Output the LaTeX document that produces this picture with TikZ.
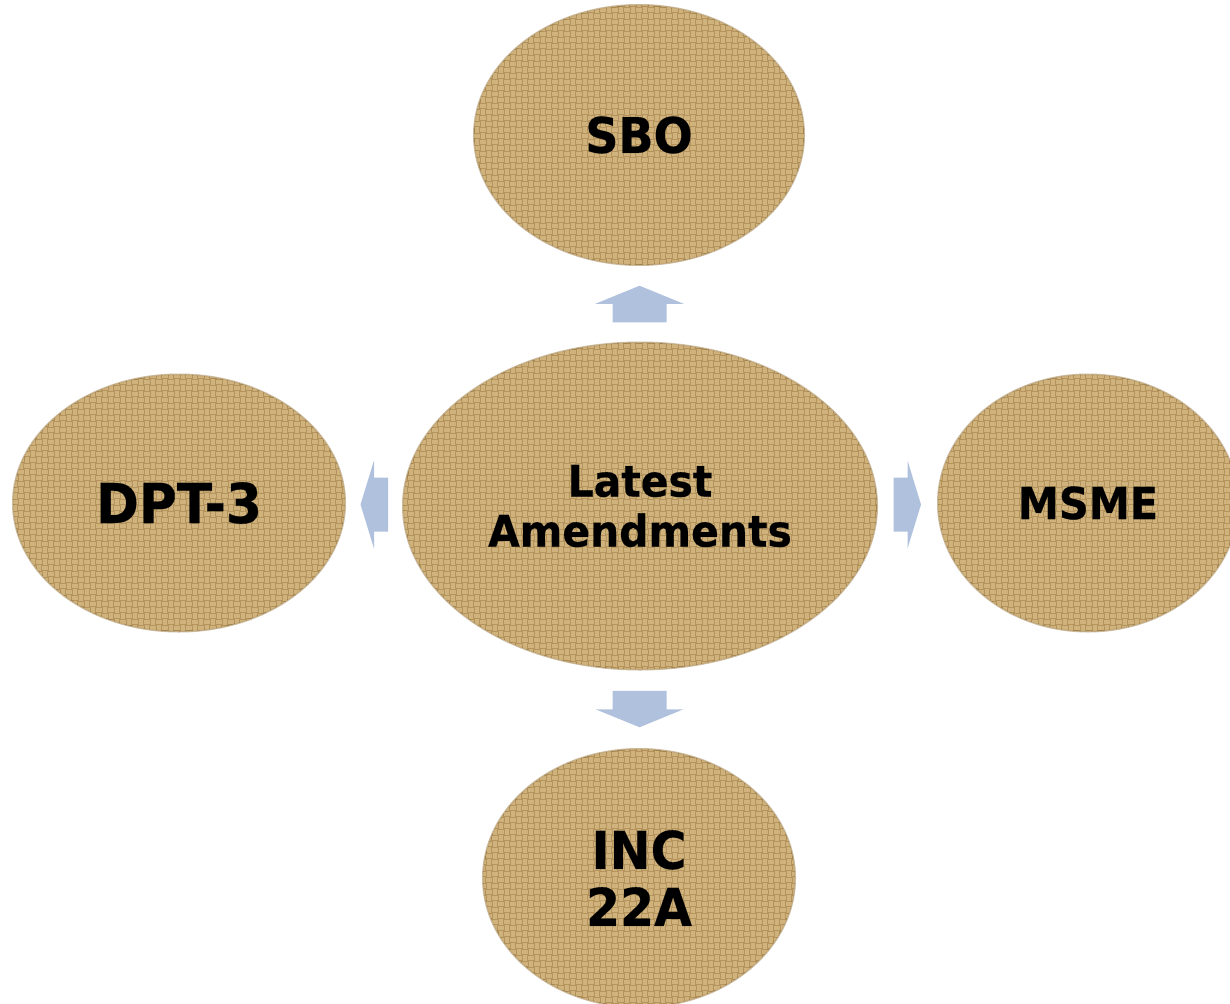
\documentclass[tikz,border=0pt]{standalone}
\usepackage{fontspec}
\newfontfamily\lbl{DejaVu Sans}[FakeStretch=0.94, BoldFeatures={FakeBold=1.2}]
\usetikzlibrary{shapes.geometric,patterns,calc}
\definecolor{burlap}{RGB}{180,148,92}
\definecolor{thread}{RGB}{236,211,156}
\definecolor{rim}{RGB}{150,118,66}
\definecolor{arrowblue}{RGB}{176,193,222}
\pgfdeclarepatternformonly{weave}{\pgfpoint{-1pt}{-1pt}}{\pgfpoint{13pt}{13pt}}{\pgfpoint{12pt}{12pt}}{%
  \pgfsetlinewidth{2.2pt}%
  \pgfpathmoveto{\pgfpoint{0.6pt}{1.5pt}}\pgfpathlineto{\pgfpoint{5.4pt}{1.5pt}}%
  \pgfpathmoveto{\pgfpoint{0.6pt}{4.5pt}}\pgfpathlineto{\pgfpoint{5.4pt}{4.5pt}}%
  \pgfpathmoveto{\pgfpoint{7.5pt}{0.6pt}}\pgfpathlineto{\pgfpoint{7.5pt}{5.4pt}}%
  \pgfpathmoveto{\pgfpoint{10.5pt}{0.6pt}}\pgfpathlineto{\pgfpoint{10.5pt}{5.4pt}}%
  \pgfpathmoveto{\pgfpoint{1.5pt}{6.6pt}}\pgfpathlineto{\pgfpoint{1.5pt}{11.4pt}}%
  \pgfpathmoveto{\pgfpoint{4.5pt}{6.6pt}}\pgfpathlineto{\pgfpoint{4.5pt}{11.4pt}}%
  \pgfpathmoveto{\pgfpoint{6.6pt}{7.5pt}}\pgfpathlineto{\pgfpoint{11.4pt}{7.5pt}}%
  \pgfpathmoveto{\pgfpoint{6.6pt}{10.5pt}}\pgfpathlineto{\pgfpoint{11.4pt}{10.5pt}}%
  \pgfusepath{stroke}}
\tikzset{
  blob/.style={ellipse, inner sep=0pt, fill=burlap,
    postaction={pattern=weave, pattern color=thread},
    draw=rim, draw opacity=0.5, line width=2pt,
    align=center, text=black},
  arr/.style={fill=arrowblue, draw=none},
  varrow/.pic={\fill[arr] (0,-18) -- (44,0) -- (27,0) -- (27,18.5) -- (-27,18.5) -- (-27,0) -- (-44,0) -- cycle;},
  harrow/.pic={\fill[arr] (-13.5,0) -- (0,-44) -- (0,-27) -- (14,-27) -- (14,27) -- (0,27) -- (0,44) -- cycle;}
}
\begin{document}
\begin{tikzpicture}[x=1pt,y=-1pt]
\useasboundingbox (0,0) rectangle (1230,1003);
\node[blob, minimum width=474pt, minimum height=327pt,
  font=\lbl\bfseries\fontsize{43.5}{50}\selectfont] (c) at (640,506) {Latest\\Amendments};
\node[blob, minimum width=330pt, minimum height=260pt,
  font=\lbl\bfseries\fontsize{49}{56}\selectfont] (sbo) at (639,135) {SBO};
\node[blob, minimum width=332pt, minimum height=257pt,
  font=\lbl\bfseries\fontsize{55}{60}\selectfont] (dpt) at (179,503) {DPT-3};
\node[blob, minimum width=300pt, minimum height=257pt,
  font=\lbl\bfseries\fontsize{44}{50}\selectfont] (msme) at (1088,503) {MSME};
\node[blob, minimum width=312pt, minimum height=258pt,
  font=\lbl\bfseries\fontsize{52}{57}\selectfont] (inc) at (639,878) {INC\\22A};
\pic at ($(c.north)!0.5!(sbo.south)$) {varrow};
\pic[rotate=180] at ($(c.south)!0.5!(inc.north)$) {varrow};
\pic at ($(c.west)!0.5!(dpt.east)$) {harrow};
\pic[rotate=180] at ($(c.east)!0.5!(msme.west)$) {harrow};
\end{tikzpicture}
\end{document}
